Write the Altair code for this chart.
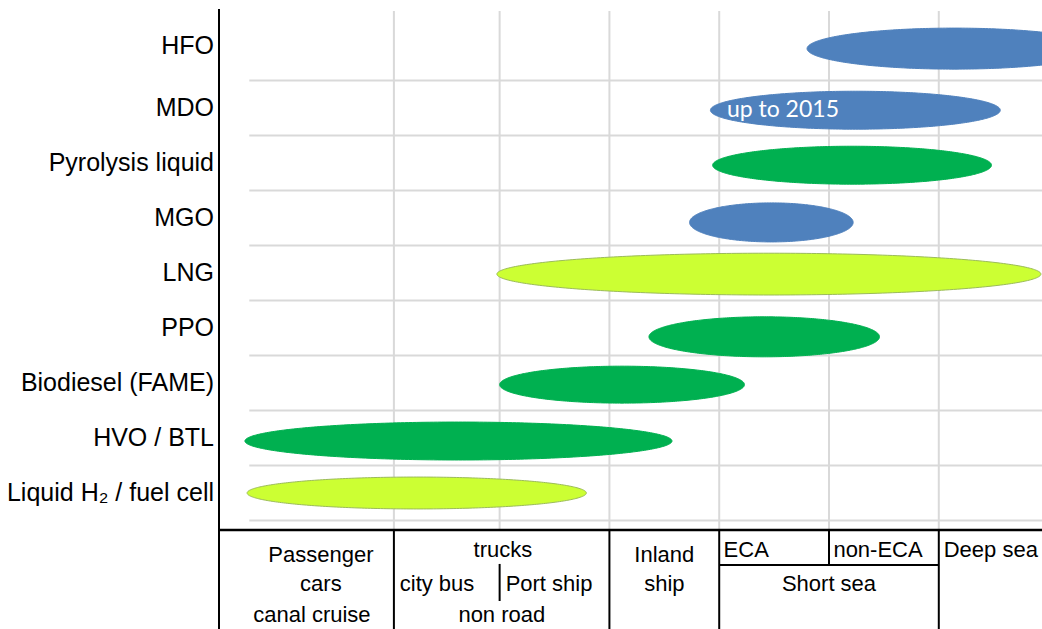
import numpy as np
import pandas as pd
import altair as alt

# ---- fuels, listed top to bottom ----
fuels = ["HFO", "MDO", "Pyrolysis liquid", "MGO", "LNG", "PPO",
         "Biodiesel (FAME)", "HVO / BTL\u00a0", "Liquid H\u2082 / fuel cell"]
fuel_group = ["fossil", "fossil", "bio", "fossil", "cryogenic",
              "bio", "bio", "bio", "cryogenic"]
row_index = [8, 7, 6, 5, 4, 3, 2, 1, 0]

# range of application on the vehicle / vessel scale (start, end)
range_start = [4.80, 3.92, 3.94, 3.73, 1.975, 3.36, 2.00, -0.32, -0.30]
range_end = [7.48, 6.56, 6.48, 5.22, 6.93, 5.46, 4.23, 3.57, 2.79]
# vertical centre and half thickness of each band, in row units
band_center = [8.08, 6.96, 5.96, 4.92, 3.98, 2.84, 1.97, 0.945, 0.0]
band_half = [0.373, 0.345, 0.345, 0.355, 0.38, 0.364, 0.336, 0.345, 0.29]

note_text = "up to 2015"
note_fuel = "MDO"

# ---- application categories below the plot ----
cat_labels = ["Passenger", "cars", "canal cruise",
              "trucks", "city bus", "Port ship", "non road",
              "Inland", "ship",
              "ECA", "non-ECA", "Deep sea", "Short sea"]

# ---- frame ----
X_MIN, X_MAX = -0.556, 6.94
Y_MIN, Y_MAX = -2.473, 8.964
GRID_TOP = 8.764
GRID_LEFT = -0.28
TABLE_TOP = -0.673
TABLE_MID = -1.309

grid_x = [1.037, 2, 3, 4, 5, 6]
grid_y = [-0.5, 0.5, 1.5, 2.5, 3.5, 4.5, 5.5, 6.5, 7.5]

xs = alt.Scale(domain=[X_MIN, X_MAX], nice=False, zero=False)
ys = alt.Scale(domain=[Y_MIN, Y_MAX], nice=False, zero=False)

# ---- ellipse outlines from each fuel's range ----
theta = np.linspace(0, np.pi, 161)
ell_rows = []
for f, g, x0, x1, yc, hh in zip(fuels, fuel_group, range_start, range_end,
                                band_center, band_half):
    cx, a = (x0 + x1) / 2, (x1 - x0) / 2
    for t in theta:
        h = hh * np.sin(t)
        ell_rows.append({"fuel": f, "kind": g, "px": float(cx - a * np.cos(t)),
                         "lo": float(yc - h), "hi": float(yc + h)})
ell_df = pd.DataFrame(ell_rows)

group_dom = ["fossil", "bio", "cryogenic"]
fill_scale = alt.Scale(domain=group_dom, range=["#4F81BD", "#00B050", "#CCFF33"])
stroke_scale = alt.Scale(domain=group_dom, range=["#4F81BD", "#00B050", "#9BBB59"])

ellipses = alt.Chart(ell_df).mark_area(clip=True, strokeWidth=1).encode(
    x=alt.X("px:Q", scale=xs, axis=None),
    y=alt.Y("lo:Q", scale=ys, axis=None),
    y2="hi:Q",
    detail="fuel:N",
    fill=alt.Fill("kind:N", scale=fill_scale, legend=None),
    stroke=alt.Stroke("kind:N", scale=stroke_scale, legend=None),
)

# ---- gridlines ----
vgrid = alt.Chart(pd.DataFrame({"x": grid_x})).mark_rule(
    color="#D9D9D9", strokeWidth=2).encode(
    x=alt.X("x:Q", scale=xs, axis=None),
    y=alt.Y("t:Q", scale=ys, axis=None),
    y2="b:Q",
).transform_calculate(t=str(GRID_TOP), b=str(TABLE_TOP))

hgrid = alt.Chart(pd.DataFrame({"y": grid_y})).mark_rule(
    color="#D9D9D9", strokeWidth=2).encode(
    y=alt.Y("y:Q", scale=ys, axis=None),
    x=alt.X("l:Q", scale=xs, axis=None),
    x2="r:Q",
).transform_calculate(l=str(GRID_LEFT), r=str(X_MAX))

# ---- y labels ----
label_y = [(7.5 + GRID_TOP) / 2 if r == 8 else r for r in row_index]
ylab = alt.Chart(pd.DataFrame({"fuel": fuels, "y": label_y})).mark_text(
    align="right", baseline="middle", font="Liberation Sans", fontSize=25,
    color="black").encode(
    x=alt.value(-5),
    y=alt.Y("y:Q", scale=ys, axis=None),
    text="fuel:N",
)

# ---- note inside the MDO band ----
k = fuels.index(note_fuel)
note = alt.Chart(pd.DataFrame({"t": [note_text], "x": [range_start[k] + 0.15],
                               "y": [band_center[k]]})).mark_text(
    align="left", baseline="middle", font="Lato", fontSize=23,
    color="white").encode(
    x=alt.X("x:Q", scale=xs, axis=None),
    y=alt.Y("y:Q", scale=ys, axis=None),
    text="t:N",
)

# ---- table of application categories ----
# line segments: x, x2, y, y2
seg = [
    (X_MIN, X_MIN, 8.8, Y_MIN),            # left axis
    (1.037, 1.037, TABLE_TOP, Y_MIN),
    (3, 3, TABLE_TOP, Y_MIN),
    (4, 4, TABLE_TOP, Y_MIN),
    (6, 6, TABLE_TOP, Y_MIN),
    (5, 5, TABLE_TOP, TABLE_MID),
    (4, 6, TABLE_MID, TABLE_MID),
    (2, 2, -1.29, -1.964),
]
seg_df = pd.DataFrame(seg, columns=["x", "x2", "y", "y2"])
lines = alt.Chart(seg_df).mark_rule(color="black", strokeWidth=2).encode(
    x=alt.X("x:Q", scale=xs, axis=None), x2="x2:Q",
    y=alt.Y("y:Q", scale=ys, axis=None), y2="y2:Q",
)
top_line = alt.Chart(pd.DataFrame({"y": [TABLE_TOP]})).mark_rule(
    color="black", strokeWidth=2.5).encode(
    y=alt.Y("y:Q", scale=ys, axis=None),
    x=alt.X("l:Q", scale=xs, axis=None), x2="r:Q",
).transform_calculate(l=str(X_MIN), r=str(X_MAX))

ROW1, ROW1B, ROW2, ROW3 = -1.036, -1.127, -1.655, -2.218
cell_pos = [
    (0.372, ROW1B, "center"), (0.372, ROW2, "center"), (0.29, ROW3, "center"),
    (2.03, ROW1, "center"), (1.43, ROW2, "center"), (2.45, ROW2, "center"),
    (2.02, ROW3, "center"),
    (3.50, ROW1B, "center"), (3.50, ROW2, "center"),
    (4.04, ROW1, "left"), (5.04, ROW1, "left"), (6.045, ROW1, "left"),
    (5.0, ROW2, "center"),
]
cell_df = pd.DataFrame({
    "t": cat_labels,
    "x": [p[0] for p in cell_pos],
    "y": [p[1] for p in cell_pos],
    "a": [p[2] for p in cell_pos],
})


def cells(align):
    return alt.Chart(cell_df[cell_df["a"] == align]).mark_text(
        align=align, baseline="middle", font="Liberation Sans", fontSize=22,
        color="black").encode(
        x=alt.X("x:Q", scale=xs, axis=None),
        y=alt.Y("y:Q", scale=ys, axis=None),
        text="t:N",
    )


chart = alt.layer(
    vgrid, hgrid, ellipses, note, lines, top_line, ylab,
    cells("center"), cells("left"),
).properties(
    width=823, height=629,
    padding={"left": 219, "top": 0, "right": 0, "bottom": 0},
    autosize=alt.AutoSizeParams(type="none"),
    background="white",
).configure_view(stroke=None)

chart.save("out.html", embed_options={"renderer": "svg", "actions": False})
